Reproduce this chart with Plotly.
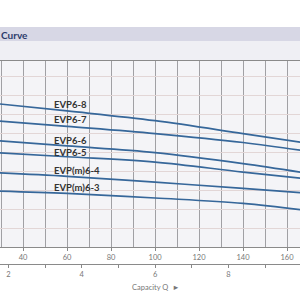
import plotly.graph_objects as go

# Capacity Q (l/min) sample points
capacity = [25, 60, 100, 140, 170]
# Head values per pump model (relative head units)
series = {
    "EVP6-8": [75.8, 71.6, 66.5, 59.7, 54.5],
    "EVP6-7": [66.7, 63.5, 59.7, 55.0, 50.3],
    "EVP6-6": [56.2, 53.2, 49.7, 43.9, 38.7],
    "EVP6-5": [49.8, 47.5, 44.7, 39.4, 35.8],
    "EVP(m)6-4": [39.2, 37.2, 34.1, 30.9, 28.2],
    "EVP(m)6-3": [29.6, 28.2, 25.8, 23.0, 19.1],
}
label_x = 53.2
label_y = {
    "EVP6-8": 75.1,
    "EVP6-7": 67.2,
    "EVP6-6": 56.3,
    "EVP6-5": 49.8,
    "EVP(m)6-4": 40.2,
    "EVP(m)6-3": 31.2,
}
q_ticks = [40, 60, 80, 100, 120, 140, 160]
m3h_ticks = [2, 4, 6, 8]
x_range = [29.5, 165.9]
y_range = [0, 97.9]
LPM_PER_M3H = 1000 / 60
x2_range = [x_range[0] / LPM_PER_M3H, x_range[1] / LPM_PER_M3H]

fig = go.Figure()
for name, vals in series.items():
    fig.add_trace(go.Scatter(x=capacity, y=vals, mode="lines", name=name,
                             line=dict(color="#36679a", width=1.7, shape="spline"),
                             showlegend=False, hoverinfo="skip"))
    fig.add_annotation(x=label_x, y=label_y[name], xref="x", yref="y", text=name,
                       showarrow=False, xanchor="left", yanchor="middle",
                       font=dict(family="Lato", size=9.5, color="#333333", weight="bold"))

# empty trace for the m3/h axis subplot
fig.add_trace(go.Scatter(x=x2_range, y=[None, None], xaxis="x2", yaxis="y2",
                         mode="lines", showlegend=False, hoverinfo="skip"))

H = 300
top = 61
plot_bottom = 247
dom0 = (H - plot_bottom) / (H - top)
pos2 = (H - 264) / (H - top)

def py(Y):
    return (H - Y) / (H - top)

fig.update_layout(
    width=300, height=300,
    margin=dict(l=0, r=0, t=top, b=0, autoexpand=False),
    paper_bgcolor="white",
    plot_bgcolor="rgba(0,0,0,0)",
    xaxis=dict(range=x_range, domain=[0, 1], anchor="y", tickvals=q_ticks,
               showgrid=True, gridcolor="#a0a0a4", gridwidth=1,
               minor=dict(dtick=10, tick0=0, showgrid=True, gridcolor="#a0a0a4", gridwidth=1),
               ticks="outside", ticklen=3, tickcolor="#888", showline=True, linecolor="#8a8a8a",
               linewidth=1, mirror=True, zeroline=False, automargin=False,
               tickfont=dict(family="Lato", size=7.5, color="#777777")),
    xaxis2=dict(range=x2_range, domain=[0, 1], anchor="y2", side="bottom", tickvals=m3h_ticks,
                showgrid=False, ticks="outside", ticklen=3, tickcolor="#888",
                minor=dict(dtick=1, tick0=1, ticks="outside", ticklen=3, tickcolor="#888", showgrid=False),
                showline=True, linecolor="#8a8a8a", linewidth=1, zeroline=False, automargin=False,
                tickfont=dict(family="Lato", size=7.5, color="#777777")),
    yaxis=dict(range=y_range, domain=[dom0, 1], dtick=10, showgrid=True,
               gridcolor="#e2d6d6", gridwidth=1, showticklabels=False, zeroline=False,
               showline=False, automargin=False),
    yaxis2=dict(range=[0, 1], domain=[pos2, pos2 + 0.01], showgrid=False, showticklabels=False,
                zeroline=False, showline=False, automargin=False),
    shapes=[
        dict(type="rect", xref="paper", yref="paper", x0=0, x1=1, y0=py(41), y1=py(27),
             fillcolor="#d7d7e5", line=dict(width=0), layer="below"),
        dict(type="rect", xref="paper", yref="paper", x0=0, x1=1, y0=py(61), y1=py(41),
             fillcolor="#efeff4", line=dict(width=0), layer="below"),
        dict(type="rect", xref="paper", yref="paper", x0=0, x1=1, y0=dom0, y1=1,
             fillcolor="#f4f4f7", line=dict(width=0), layer="below"),
    ],
)
fig.add_annotation(x=0, y=py(34.5), xref="paper", yref="paper", text="Curve",
                   showarrow=False, xanchor="left", yanchor="middle", xshift=-1,
                   font=dict(family="Lato", size=10, color="#2b3b6b", weight="bold"))
fig.add_annotation(x=0.433, y=py(287), xref="paper", yref="paper", text="Capacity Q  ►",
                   showarrow=False, xanchor="left", yanchor="middle",
                   font=dict(family="Lato", size=7.5, color="#777777"))

fig.write_html("out.html")
